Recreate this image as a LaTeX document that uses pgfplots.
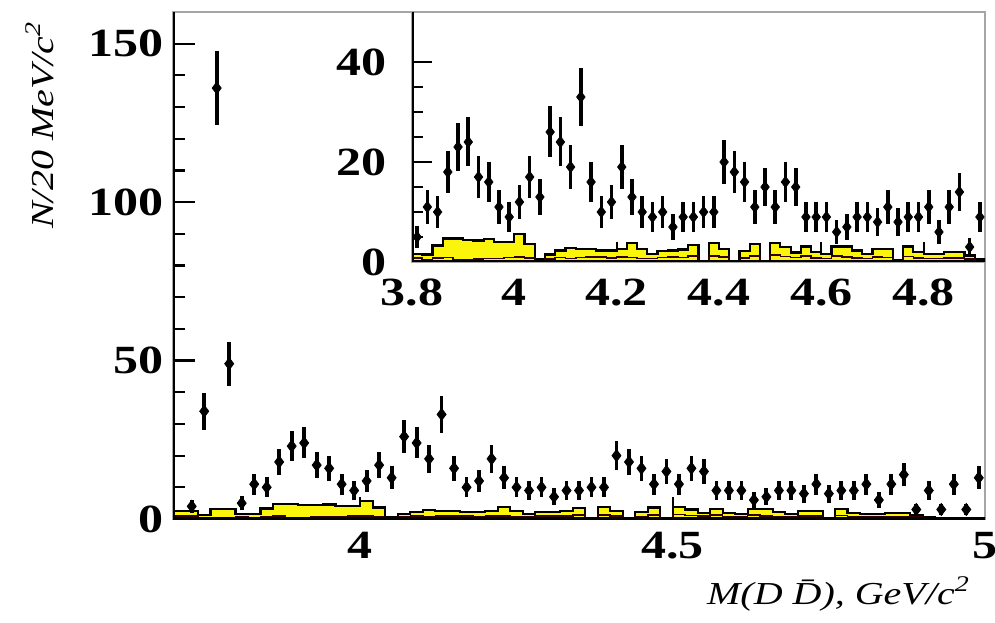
\documentclass[border=0pt]{standalone}
\usepackage{fontspec}
\setmainfont{Liberation Serif}[FakeStretch=1.25]
\usepackage{pgfplots}
\usepackage{pgfplotstable}
\pgfplotsset{compat=1.18}
\definecolor{histyellow}{RGB}{250,245,10}

\pgfplotstableread{
x n e
3.73 4 2.00
3.75 34 5.83
3.77 136 11.66
3.79 49 7.00
3.81 5 2.24
3.83 11 3.32
3.85 10 3.16
3.87 18 4.24
3.89 23 4.80
3.91 24 4.90
3.93 17 4.12
3.95 16 4.00
3.97 11 3.32
3.99 9 3.00
4.01 12 3.46
4.03 17 4.12
4.05 13 3.61
4.07 26 5.10
4.09 24 4.90
4.11 19 4.36
4.13 33 5.74
4.15 16 4.00
4.17 10 3.16
4.19 12 3.46
4.21 19 4.36
4.23 13 3.61
4.25 10 3.16
4.27 9 3.00
4.29 10 3.16
4.31 7 2.65
4.33 9 3.00
4.35 9 3.00
4.37 10 3.16
4.39 10 3.16
4.41 20 4.47
4.43 18 4.24
4.45 16 4.00
4.47 11 3.32
4.49 15 3.87
4.51 11 3.32
4.53 16 4.00
4.55 15 3.87
4.57 9 3.00
4.59 9 3.00
4.61 9 3.00
4.63 6 2.45
4.65 7 2.65
4.67 9 3.00
4.69 9 3.00
4.71 8 2.83
4.73 11 3.32
4.75 8 2.83
4.77 9 3.00
4.79 9 3.00
4.81 11 3.32
4.83 6 2.45
4.85 11 3.32
4.87 14 3.74
4.89 3 1.73
4.91 9 3.00
4.93 3 1.73
4.95 11 3.32
4.97 3 1.73
4.99 13 3.61
}\datatable

\pgfplotstableread{
x h
3.70 2.6
3.72 2.6
3.74 1.3
3.76 3.1
3.78 3.1
3.80 1.6
3.82 1.5
3.84 3.3
3.86 4.7
3.88 4.7
3.90 4.4
3.92 4.3
3.94 4.6
3.96 4.0
3.98 4.0
4.00 5.6
4.02 3.6
4.04 0.5
4.06 1.5
4.08 2.3
4.10 2.8
4.12 2.6
4.14 2.6
4.16 2.3
4.18 2.3
4.20 2.6
4.22 3.8
4.24 2.6
4.26 1.6
4.28 2.2
4.30 2.3
4.32 2.5
4.34 3.4
4.36 0
4.38 3.8
4.40 2.6
4.42 0
4.44 2.2
4.46 3.6
4.48 0
4.50 3.8
4.52 3.0
4.54 1.9
4.56 3.1
4.58 2.0
4.60 1.6
4.62 3.1
4.64 3.1
4.66 2.3
4.68 1.6
4.70 2.6
4.72 2.6
4.74 0.3
4.76 3.1
4.78 2.0
4.80 1.6
4.82 1.6
4.84 2.0
4.86 2.0
4.88 1.3
4.90 0.6
4.92 0.4
4.94 0.4
4.96 0.4
4.98 0.4
5.00 0.4
}\histtable

\pgfplotstableread{
x h
3.70 0.9
3.72 0.9
3.74 0.4
3.76 0.3
3.78 0.3
3.80 0.8
3.82 0.5
3.84 0.8
3.86 0.9
3.88 0.4
3.90 0.4
3.92 0.6
3.94 0.7
3.96 0.7
3.98 0.9
4.00 1.0
4.02 0.8
4.04 0.2
4.06 0.6
4.08 0.9
4.10 0.7
4.12 0.9
4.14 1.0
4.16 1.0
4.18 0.8
4.20 1.0
4.22 0.9
4.24 0.7
4.26 0.7
4.28 0.9
4.30 1.0
4.32 0.9
4.34 1.2
4.36 0
4.38 1.2
4.40 1.0
4.42 0
4.44 0.8
4.46 1.2
4.48 0
4.50 1.4
4.52 1.1
4.54 0.9
4.56 1.2
4.58 0.8
4.60 0.7
4.62 1.2
4.64 1.0
4.66 0.8
4.68 0.7
4.70 1.0
4.72 0.9
4.74 0.1
4.76 1.1
4.78 0.8
4.80 0.7
4.82 0.7
4.84 0.8
4.86 0.8
4.88 0.6
4.90 0.3
4.92 0.2
5.00 0.2
}\bgtable

\pgfplotsset{
  rootstyle/.style={
    scale only axis,
    axis line style={gray!70, line width=0.7pt},
    tick align=inside,
    xtick pos=bottom,
    ytick pos=left,
    every tick/.style={black, line width=1.1pt},
    tick label style={font=\fontsize{20}{20}\selectfont\bfseries},
    /pgf/number format/assume math mode=true,
    clip=true,
  },
}

\begin{document}
\begin{tikzpicture}
\path[use as bounding box] (0,0) rectangle (497.5pt,311pt);
% main axis
\begin{axis}[rootstyle,
  at={(86.5pt,51.5pt)}, anchor=south west,
  width=406pt, height=253.5pt,
  xmin=3.7, xmax=5, ymin=0, ymax=160,
  xtick={4,4.5,5}, ytick={0,50,100,150},
  minor y tick num=4,
  major tick length=11pt, minor tick length=6pt,
  xticklabel style={yshift=-3pt},
  yticklabel style={xshift=-1pt},
  xlabel={\textit{M(D \={D}), GeV/c\textsuperscript{2}}},
  ylabel={\textit{N/20 MeV/c\textsuperscript{2}}},
  xlabel style={font=\fontsize{16}{16}\selectfont, at={(axis description cs:0.99,-0.1)}, anchor=north east},
  ylabel style={font=\fontsize{16}{16}\selectfont, at={(axis description cs:-0.164,0.995)}, anchor=east, rotate=0},
]
\addplot[fill=histyellow, draw=black, line width=1.1pt, const plot] table[x=x, y=h] {\histtable} \closedcycle;
\addplot[draw=black!80!red, line width=0.8pt, const plot] table[x=x, y=h] {\bgtable};
\addplot[only marks, black, mark=diamond*, mark size=3pt,
  error bars/.cd, y dir=both, y explicit, error mark=none,
  error bar style={line width=1.9pt, black}]
  table[x=x, y=n, y error=e] {\datatable};
\draw[black, line width=1.6pt] (rel axis cs:0,1) -- (rel axis cs:0,0) -- (rel axis cs:1,0);
\end{axis}
% inset
\begin{axis}[rootstyle,
  at={(206pt,180pt)}, anchor=south west,
  width=286.5pt, height=125pt,
  xmin=3.8, xmax=4.92, ymin=0, ymax=50,
  xtick={3.8,4,4.2,4.4,4.6,4.8}, ytick={0,20,40},
  minor y tick num=3,
  major tick length=10pt, minor tick length=5.5pt,
  xticklabel style={yshift=-5pt},
  yticklabel style={xshift=-9pt},
  xticklabel={\pgfmathprintnumber[fixed,precision=1]{\tick}},
  axis background/.style={fill=white},
]
\addplot[fill=histyellow, draw=black, line width=1.1pt, const plot] table[x=x, y=h] {\histtable} \closedcycle;
\addplot[draw=black!80!red, line width=0.8pt, const plot] table[x=x, y=h] {\bgtable};
\addplot[only marks, black, mark=diamond*, mark size=2.8pt,
  error bars/.cd, y dir=both, y explicit, error mark=none,
  error bar style={line width=1.8pt, black}]
  table[x=x, y=n, y error=e] {\datatable};
\draw[black, line width=1.6pt] (rel axis cs:0,1) -- (rel axis cs:0,0) -- (rel axis cs:1,0);
\end{axis}
\end{tikzpicture}
\end{document}
